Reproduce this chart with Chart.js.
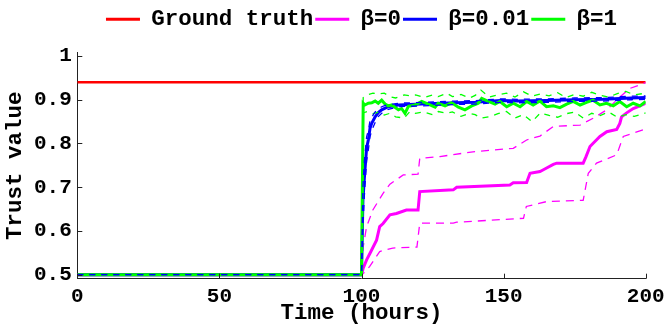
<!DOCTYPE html>
<html>
<head>
<meta charset="utf-8">
<script src="https://cdn.jsdelivr.net/npm/chart.js@4/dist/chart.umd.min.js"></script>
<style>
html,body{margin:0;padding:0;background:#fff;}
canvas{display:block;}
</style>
</head>
<body>
<canvas id="c" width="665" height="326"></canvas>
<script>
// ---------- data ----------
const xTicks = [0, 50, 100, 150, 200];
const yTicks = [0.5, 0.6, 0.7, 0.8, 0.9, 1];
const yTickLabels = ['0.5', '0.6', '0.7', '0.8', '0.9', '1'];
const legendNames = ['Ground truth', 'β=0', 'β=0.01', 'β=1'];

const truthT = [0, 200];
const truthV = [0.94, 0.94];

const beta0T = [0,100,100.6,101.8,103,105.3,106.4,107.6,110,112.3,115.8,119.9,120.5,132.3,133.5,152.2,153.4,158.1,159.3,162.8,164,167.5,168.7,178,179,180.4,181.6,183.9,186.3,189.8,190.9,191.5,193.3,195.6,198,200];
const beta0V = [0.5,0.5,0.515,0.534,0.549,0.579,0.61,0.617,0.637,0.64,0.648,0.648,0.69,0.694,0.70,0.705,0.71,0.711,0.732,0.736,0.74,0.752,0.755,0.755,0.77,0.793,0.801,0.816,0.827,0.832,0.846,0.861,0.87,0.88,0.886,0.892];

const beta0UpT = [0,100,100.5,101.8,104,107.6,110,114.7,119.9,120.5,127.6,139.2,153.4,158.1,162.8,167.5,176.9,181.6,186.3,191,194.5,200];
const beta0UpV = [0.5,0.5,0.56,0.61,0.648,0.686,0.707,0.728,0.73,0.766,0.77,0.781,0.789,0.808,0.817,0.839,0.842,0.858,0.877,0.907,0.926,0.939];

const beta0LoT = [0,100,101,102.9,106.4,111,119.5,120.5,132.3,133.5,157,158,165,178,179.8,182.7,189.8,192.1,200];
const beta0LoV = [0.5,0.5,0.505,0.519,0.553,0.561,0.563,0.618,0.618,0.62,0.629,0.656,0.667,0.67,0.732,0.755,0.774,0.816,0.833];

const beta001T  = [0,100,100.5,101,101.8,102.4,103,103.6,104.8,106,107.1,109.4,113,121,133,140,149,155,165,175,185,195,200];
const beta001V  = [0.5,0.5,0.67,0.72,0.79,0.808,0.835,0.846,0.861,0.871,0.877,0.884,0.888,0.890,0.893,0.894,0.898,0.897,0.898,0.900,0.901,0.904,0.905];
const beta001UpV = [0.5,0.5,0.70,0.76,0.815,0.83,0.852,0.86,0.872,0.879,0.884,0.889,0.892,0.894,0.897,0.898,0.902,0.901,0.902,0.904,0.905,0.908,0.909];
const beta001LoV = [0.5,0.5,0.61,0.68,0.76,0.785,0.815,0.83,0.848,0.862,0.869,0.878,0.884,0.886,0.889,0.890,0.894,0.893,0.894,0.896,0.897,0.900,0.901];

const beta1T = [0,100,100.6,101.2,102.4,103.6,104.8,105.9,107.1,108.3,109.4,110.6,113,114.1,115.3,116.5,118.8,121.2,123.5,125.9,127,129.4,131.7,134.1,136.4,138.8,141.1,142.3,144.6,147,148.7,151.1,153.4,155.8,158.1,160.4,162.8,165.1,167.5,169.8,172.2,174.5,176.9,179.2,181.5,183.9,186.2,188.6,190.9,193.3,195.6,198,200];
const beta1V = [0.5,0.5,0.892,0.888,0.892,0.893,0.897,0.892,0.899,0.890,0.886,0.888,0.877,0.880,0.869,0.885,0.888,0.896,0.890,0.883,0.892,0.886,0.893,0.883,0.877,0.886,0.892,0.903,0.896,0.890,0.896,0.884,0.892,0.884,0.896,0.888,0.897,0.884,0.886,0.882,0.890,0.896,0.888,0.894,0.899,0.888,0.892,0.886,0.896,0.884,0.892,0.886,0.896];

const beta1BandT = [0,100,100.6,102,104,106,108,110,112,115,117,119,122,125,127,130,132,135,138,140,142,145,148,151,154,157,160,163,166,169,172,175,178,181,184,187,190,193,196,200];
const beta1UpV = [0.5,0.5,0.905,0.911,0.915,0.913,0.915,0.907,0.904,0.911,0.909,0.911,0.905,0.911,0.907,0.915,0.907,0.912,0.904,0.910,0.922,0.906,0.911,0.915,0.906,0.918,0.908,0.913,0.909,0.916,0.905,0.912,0.908,0.917,0.910,0.906,0.914,0.919,0.911,0.915];
const beta1LoV = [0.5,0.5,0.870,0.873,0.868,0.872,0.865,0.869,0.861,0.858,0.873,0.869,0.872,0.866,0.873,0.869,0.872,0.862,0.869,0.866,0.858,0.861,0.868,0.873,0.858,0.866,0.850,0.870,0.864,0.860,0.868,0.872,0.858,0.869,0.864,0.872,0.860,0.866,0.862,0.870];

// ---------- helpers ----------
const pts = (T, V) => T.map((t, i) => ({x: t, y: V[i]}));
const FONT = 'Liberation Mono, Courier New, monospace';

function lineDs(label, T, V, color, width, dash, order, legendIndex) {
  return {
    label, data: pts(T, V), borderColor: color, backgroundColor: color,
    borderWidth: width, borderDash: dash || [], pointRadius: 0, tension: 0,
    fill: false, order, legendIndex
  };
}

const datasets = [
  lineDs(legendNames[0], truthT, truthV, '#ff0000', 2.5, null, 7, 0),
  lineDs(legendNames[1], beta0T, beta0V, '#ff00ff', 3, null, 6, 1),
  lineDs('β=0 upper', beta0UpT, beta0UpV, '#ff00ff', 1.3, [8,6], 5),
  lineDs('β=0 lower', beta0LoT, beta0LoV, '#ff00ff', 1.3, [8,6], 5),
  lineDs(legendNames[2], beta001T, beta001V, '#0000ff', 3, null, 4, 2),
  lineDs(legendNames[3], beta1T, beta1V, '#00ff00', 3, null, 3, 3),
  lineDs('β=1 upper', beta1BandT, beta1UpV, '#00ff00', 1.3, [6,6], 2),
  lineDs('β=1 lower', beta1BandT, beta1LoV, '#00ff00', 1.3, [6,6], 2),
  lineDs('β=0.01 upper', beta001T, beta001UpV, '#0000ff', 1.3, [6,6], 1),
  lineDs('β=0.01 lower', beta001T, beta001LoV, '#0000ff', 1.3, [6,6], 1)
];

const inwardTicks = {
  id: 'inwardTicks',
  afterDraw(chart) {
    const {ctx, chartArea, scales} = chart;
    ctx.save();
    ctx.strokeStyle = '#222';
    ctx.lineWidth = 1;
    ctx.beginPath();
    scales.x.ticks.forEach(t => {
      const px = Math.round(scales.x.getPixelForValue(t.value)) + 0.5;
      ctx.moveTo(px, chartArea.bottom);
      ctx.lineTo(px, chartArea.bottom - 5);
    });
    scales.y.ticks.forEach(t => {
      const py = Math.round(scales.y.getPixelForValue(t.value)) + 0.5;
      ctx.moveTo(chartArea.left, py);
      ctx.lineTo(chartArea.left + 5, py);
    });
    ctx.stroke();
    ctx.restore();
  }
};

const legendHeightFix = {
  id: 'legendHeightFix',
  beforeUpdate(chart) {
    const lg = chart.legend;
    if (lg && !lg._hfix) {
      const f = lg.fit;
      lg.fit = function () { f.call(this); this.height = 46.7; };
      lg._hfix = true;
    }
  }
};

new Chart(document.getElementById('c'), {
  type: 'line',
  data: { datasets },
  plugins: [legendHeightFix, inwardTicks],
  options: {
    responsive: false,
    animation: false,
    devicePixelRatio: 1,
    layout: { padding: { top: 6, right: 19.3, left: 0, bottom: 0 } },
    plugins: {
      tooltip: { enabled: false },
      legend: {
        position: 'top',
        fullSize: false,
        labels: {
          boxWidth: 34,
          boxHeight: 3,
          padding: 2,
          color: '#000',
          font: { family: FONT, weight: 'bold', size: 22.5 },
          generateLabels(chart) {
            return chart.data.datasets
              .map((d, i) => ({ d, i }))
              .filter(o => o.d.legendIndex !== undefined)
              .sort((a, b) => a.d.legendIndex - b.d.legendIndex)
              .map(o => ({
                text: o.d.label, fillStyle: o.d.borderColor, strokeStyle: o.d.borderColor,
                lineWidth: 0, datasetIndex: o.i, hidden: false, fontColor: '#000'
              }));
          }
        }
      }
    },
    scales: {
      x: {
        type: 'linear', min: 0, max: 200,
        afterBuildTicks(scale) { scale.ticks = xTicks.map(v => ({ value: v })); },
        afterFit(scale) { scale.height = 47.3; scale.paddingRight = 0; scale.paddingLeft = 0; },
        grid: { display: false, drawTicks: false },
        border: { display: true, color: '#222', width: 1 },
        ticks: {
          autoSkip: false, maxRotation: 0, padding: 5, color: '#000',
          font: { family: FONT, weight: 'bold', size: 21 },
          callback: (v) => String(v)
        },
        title: {
          display: true, text: 'Time (hours)', color: '#000',
          font: { family: FONT, weight: 'bold', size: 22.5, lineHeight: 1.2 },
          padding: { top: 0, bottom: -1 }
        }
      },
      y: {
        type: 'linear', min: 0.4909, max: 1.0075,
        afterBuildTicks(scale) { scale.ticks = yTicks.map(v => ({ value: v })); },
        afterFit(scale) { scale.width = 77.3; scale.paddingTop = 0; scale.paddingBottom = 0; },
        grid: { display: false, drawTicks: false },
        border: { display: true, color: '#222', width: 1 },
        ticks: {
          autoSkip: false, padding: 5.5, color: '#000',
          font: { family: FONT, weight: 'bold', size: 21 },
          callback: (v) => { const k = yTicks.indexOf(v); return k >= 0 ? yTickLabels[k] : ''; }
        },
        title: {
          display: true, text: 'Trust value', color: '#000',
          font: { family: FONT, weight: 'bold', size: 22.5, lineHeight: 1.2 },
          padding: { top: 1.5, bottom: 0 }
        }
      }
    }
  }
});
</script>
</body>
</html>
